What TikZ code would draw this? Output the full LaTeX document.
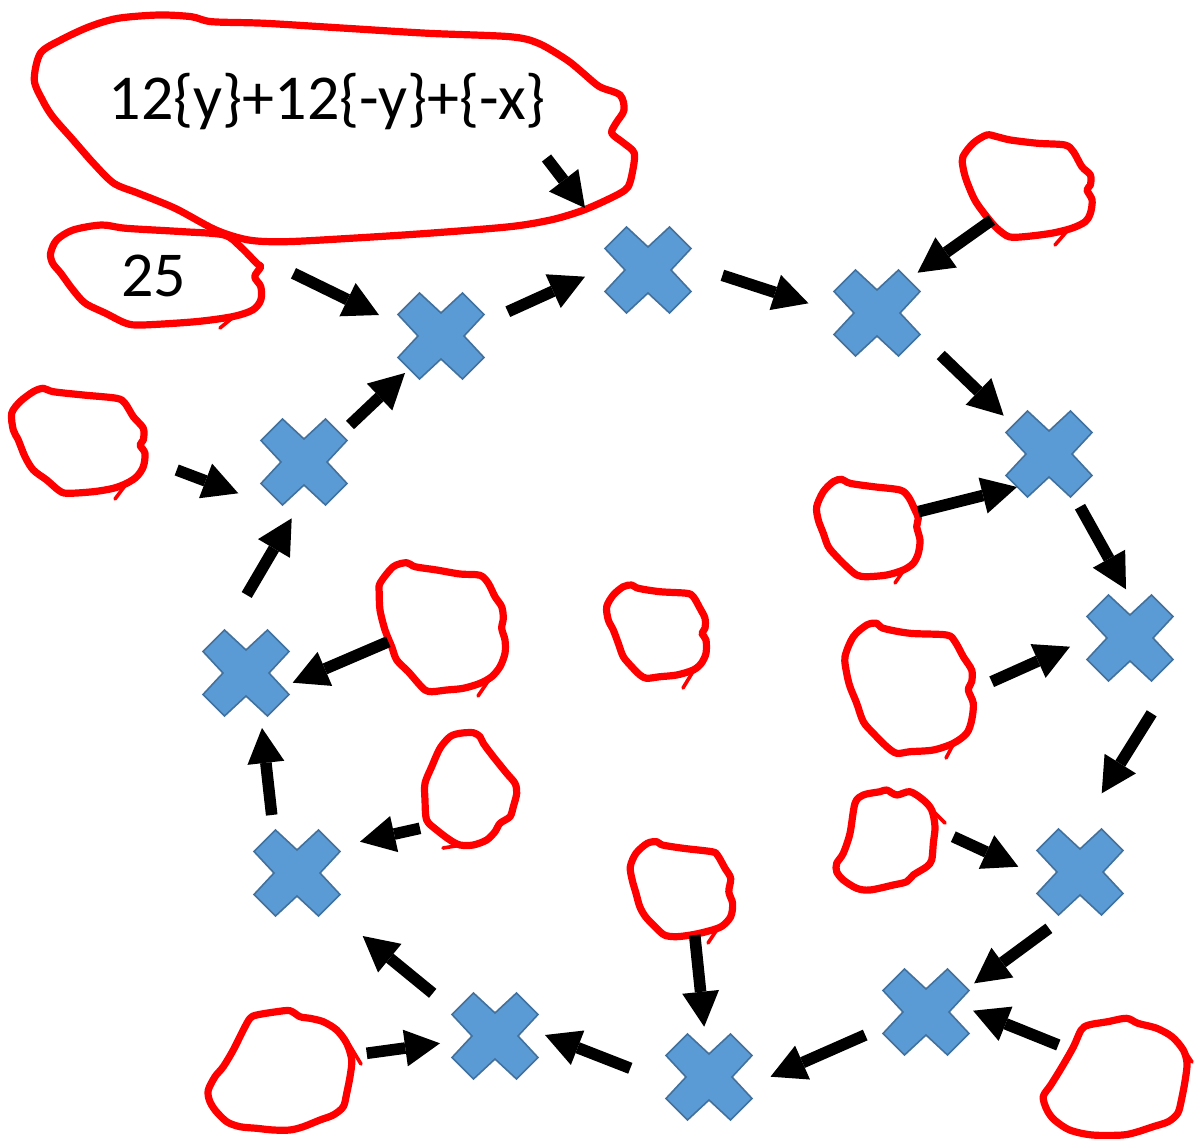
\documentclass[tikz,border=0pt]{standalone}
\usepackage{fontspec}
\setmainfont{Carlito}
\usetikzlibrary{arrows.meta}
\definecolor{xfill}{HTML}{5B9BD5}
\definecolor{xline}{HTML}{41719C}
\tikzset{
  blob/.style={draw=red, line width=3.6pt, line join=round, line cap=round},
  flick/.style={draw=red, line width=1.8pt, line cap=round},
  arr/.style={line width=5.8pt, -{Triangle[length=17.5pt,width=18.5pt,line width=0pt]}},
  xbox/.style={circle, minimum size=43pt, inner sep=0pt},
  xcross/.pic={\draw[fill=xfill, draw=xline, line width=0.8pt, line join=miter]
    (-21.5,-43) -- (0,-23) -- (21.5,-43) -- (43,-21.5) -- (23,0) -- (43,21.5) --
    (21.5,43) -- (0,23) -- (-21.5,43) -- (-43,21.5) -- (-23,0) -- (-43,-21.5) -- cycle;},
  lbl/.style={font=\fontsize{32}{38}\selectfont, anchor=base, inner sep=0pt}
}
\begin{document}
\begin{tikzpicture}[x=0.5pt, y=-0.5pt]
\path[use as bounding box] (0,0) rectangle (1194,1139);

% ---- red hand-drawn loops ----
% big loop with formula
\draw[blob] plot[smooth cycle, tension=0.5] coordinates {
 (40.4,53.3) (60.8,40) (89.4,26.7) (118,18.3) (158.8,15) (191.4,16.7) (211.8,21.7)
 (264.9,23.3) (346.5,28.3) (428.2,33.3) (509.8,36.7) (538.4,43.3) (567,60) (583.3,73.3)
 (599.6,86.7) (620,95) (624,110) (615.9,123.3) (611.8,133.3) (624,143.3) (634.3,153.3)
 (632.2,173.3) (628.2,186.7) (620,193.3) (599.6,203.3) (579.2,211.7) (550.6,220)
 (509.8,226.7) (428.2,233.3) (350.6,238.3) (285.3,241.7) (248.6,240) (215.9,230)
 (175.1,208.3) (138.4,193.3) (113.9,183.3) (93.5,163.3) (73.1,140) (52.7,116.7)
 (42.4,100) (34.3,80)};
% loop with 25
\draw[blob] plot[smooth cycle, tension=0.5] coordinates {
 (50.6,253.3) (56.7,240) (73.1,230) (101.6,225) (126.1,228.3) (183.3,231.7) (224.1,235)
 (240.4,246.7) (256.7,263.3) (260.8,266.7) (254.7,276.7) (260.8,286.7) (260.8,300)
 (252.7,310) (232.2,316.7) (195.5,321.7) (142.4,325) (126.1,323.3) (105.7,313.3)
 (85.3,303.3) (73.1,290) (60.8,273.3) (52.7,263.3)};
\draw[flick] (236,315) -- (220,328);
% top right
\draw[blob] plot[smooth cycle, tension=0.5] coordinates {
 (962.9,156.7) (973.1,143.3) (986.7,135) (996.9,136.7) (1010.5,140) (1037.7,143.3)
 (1064.9,145) (1073.4,151.7) (1081.9,166.7) (1090.4,175) (1090.4,185) (1087,190)
 (1092.1,200) (1090.4,213.3) (1085.3,221.7) (1071.7,228.3) (1051.3,233.3) (1024.1,236.7)
 (1008.8,236.7) (996.9,228.3) (986.7,216.7) (974.8,200) (966.3,180) (962.9,166.7)};
\draw[flick] (1068,230) -- (1055,245);
% left
\draw[blob] plot[smooth cycle, tension=0.5] coordinates {
 (11.7,413.3) (20,401.7) (33.3,391.7) (43.3,388.3) (53.3,391.7) (83.3,395) (116.7,398.3)
 (125,403.3) (133.3,416.7) (143.3,428.3) (143.3,440) (140,445) (145,453.3) (143.3,466.7)
 (136.7,476.7) (126.7,483.3) (113.3,488.3) (93.3,491.7) (66.7,493.3) (58.3,490)
 (46.7,480) (33.3,470) (25,456.7) (18.3,440) (13.3,430)};
\draw[flick] (127,483) -- (115,499);
% C
\draw[blob] plot[smooth cycle, tension=0.5] coordinates {
 (380,583.3) (393.3,566.7) (406.7,562.7) (415,566.7) (436.7,570) (460,574) (480,575.3)
 (488.3,583.3) (495,596.7) (501.7,606.7) (503.3,618.3) (501.7,628.3) (505,640)
 (505,653.3) (500,666.7) (491.7,676.7) (480,683.3) (463.3,688.3) (446.7,690)
 (431.7,691.7) (425,690) (418.3,683.3) (408.3,671.7) (396.7,660) (391.7,646.7)
 (385,630) (380,610) (379.3,593.3)};
\draw[flick] (491,677) -- (478,696);
% D centre
\draw[blob] plot[smooth cycle, tension=0.5] coordinates {
 (606.7,606.7) (613.3,595) (623.3,586.7) (631.7,585) (638.3,588.3) (660,591.7)
 (686.7,593.3) (693.3,596.7) (700,608.3) (705,618.3) (705,628.3) (702,633.3)
 (706,640) (706,653.3) (701.3,663.3) (693.3,670) (676.7,675) (660,676.7) (646.7,678.3)
 (640,675) (631.7,666.7) (623.3,656.7) (618.3,643.3) (613.3,630) (608.3,620)};
\draw[flick] (694,670) -- (683,688);
% E
\draw[blob] plot[smooth cycle, tension=0.5] coordinates {
 (425,783.3) (431.7,766.7) (440,748.3) (450,736.7) (460,733.3) (473.3,732.7) (480,736.7)
 (483.3,743.3) (493.3,756.7) (506.7,773.3) (515,783.3) (516.7,793.3) (513.3,806.7)
 (510,816.7) (500,823.3) (495,831.7) (486.7,840) (473.3,845) (460,845) (450,840)
 (436.7,830) (426.7,820) (425,800)};
\draw[flick] (462,845) -- (443,848);
% F
\draw[blob] plot[smooth cycle, tension=0.5] coordinates {
 (816.7,506.7) (823.3,491.7) (833.3,481.7) (841.7,479.3) (850,483.3) (873.3,486.7)
 (900,490) (908.3,496.7) (915,510) (918.3,518.3) (916.7,526.7) (920,540) (918.3,553.3)
 (913.3,563.3) (903.3,570) (886.7,575) (866.7,576.7) (856.7,575) (846.7,566.7)
 (836.7,556.7) (828.3,546.7) (823.3,533.3) (818.3,520)};
\draw[flick] (904,570) -- (895,583);
% G
\draw[blob] plot[smooth cycle, tension=0.5] coordinates {
 (845,656.7) (853.3,636.7) (866.7,625) (876.7,623.3) (883.3,628.3) (910,633.3)
 (946.7,635) (955,641.7) (963.3,656.7) (971.7,670) (971.7,681.7) (968.3,690)
 (973.3,703.3) (971.7,720) (966.7,733.3) (953.3,743.3) (933.3,750) (910,751.7)
 (896.7,753.3) (886.7,746.7) (873.3,733.3) (863.3,721.7) (856.7,703.3) (850,686.7)
 (846.7,673.3)};
\draw[flick] (954,743) -- (946,758);
% H
\draw[blob] plot[smooth cycle, tension=0.5] coordinates {
 (836.7,863.3) (843.3,853.3) (850,833.3) (855,803.3) (863.3,795) (880,791.7)
 (886.7,790) (896.7,795) (910,791.7) (923.3,800) (931.7,810) (935,826.7) (933.3,843.3)
 (931.7,860) (926.7,866.7) (913.3,875) (906.7,881.7) (893.3,885) (870,890)
 (856.7,888.3) (843.3,880) (836.7,871.7)};
\draw[flick] (932,810) -- (945,823);
% I
\draw[blob] plot[smooth cycle, tension=0.5] coordinates {
 (630.3,866.7) (636,853.3) (647.3,843.3) (656.8,841.7) (662.5,845) (683.3,848.3)
 (711.7,851.7) (717.4,855) (725,868.3) (730.7,878.3) (728.8,891.7) (732.6,903.3)
 (730.7,916.7) (721.2,926.7) (706.1,931.7) (690.9,935) (675.8,936.7) (664.4,935)
 (654.9,926.7) (645.5,916.7) (639.8,906.7) (636,893.3) (632.2,880)};
\draw[flick] (718,928) -- (708,943);
% J
\draw[blob] plot[smooth cycle, tension=0.5] coordinates {
 (1043.2,1096.7) (1050.8,1085) (1062.1,1066.7) (1073.5,1046.7) (1081.1,1030)
 (1088.6,1025) (1107.6,1021.7) (1126.5,1018.3) (1137.9,1023.3) (1156.8,1028.3)
 (1172,1036.7) (1183.3,1050) (1187,1063.3) (1185.2,1080) (1181.4,1100) (1177.7,1113.3)
 (1168.2,1121.7) (1153,1126.7) (1137.9,1131.7) (1122.7,1135) (1092.4,1135)
 (1069.7,1130) (1054.5,1120) (1047,1110)};
\draw[flick] (1184,1050) -- (1192,1062);
% K
\draw[blob] plot[smooth cycle, tension=0.5] coordinates {
 (208.3,1090) (215,1076.7) (223.3,1066.7) (233.3,1050) (243.3,1030) (250,1018.3)
 (256.7,1015) (276.7,1011.7) (290,1010.7) (300,1016.7) (310,1018.3) (323.3,1021.7)
 (336.7,1030) (346.7,1043.3) (351.7,1060) (350,1076.7) (346.7,1093.3) (343.3,1106.7)
 (333.3,1115) (320,1120) (303.3,1126.7) (290,1130) (273.3,1130) (256.7,1128.3)
 (240,1126.7) (226.7,1121.7) (215,1110) (209.3,1100)};
\draw[flick] (349,1044) -- (361,1064);

% ---- texts ----
\node[lbl] (formula) at (327.5,120) {12\{y\}+12\{-y\}+\{-x\}};
\node[lbl] (n25) at (153.5,296.7) {25};

% ---- crosses ----
\foreach \n/\p in {X1/{(441,336)}, X2/{(648,270)}, X3/{(877,313)}, X4/{(1049,454)},
  X5/{(1130,638)}, X6/{(1080,872)}, X7/{(926,1012)}, X8/{(709,1077)},
  X9/{(495,1036)}, X10/{(297,873)}, X11/{(246,673)}, X12/{(304,462)}}{
  \node[xbox] (\n) at \p {};
  \pic at (\n) {xcross};
}

% ---- arrow end points ----
\coordinate (a01s) at (293.5,273.3);  \coordinate (a01e) at (379,315);
\coordinate (a02s) at (507.8,311.7);  \coordinate (a02e) at (585,276.7);
\coordinate (a03s) at (722.4,275.3);  \coordinate (a03e) at (808.5,303.3);
\coordinate (a04s) at (940.7,355);    \coordinate (a04e) at (1003.7,415.7);
\coordinate (a05s) at (1080,506.7);   \coordinate (a05e) at (1126,589.3);
\coordinate (a06s) at (1151.7,713.3); \coordinate (a06e) at (1101.7,793.3);
\coordinate (a07s) at (1048.9,928.3); \coordinate (a07e) at (974.2,983.3);
\coordinate (a08s) at (865.2,1035);   \coordinate (a08e) at (770.5,1076.7);
\coordinate (a09s) at (630.3,1068.3); \coordinate (a09e) at (545,1035);
\coordinate (a10s) at (432.7,993.3);  \coordinate (a10e) at (362.7,936);
\coordinate (a11s) at (271.7,815);    \coordinate (a11e) at (262,728);
\coordinate (a12s) at (246.7,595);    \coordinate (a12e) at (291.7,518.3);
\coordinate (a13s) at (350,425);      \coordinate (a13e) at (405,373);
\coordinate (a14s) at (546.5,158);    \coordinate (a14e) at (585,208);
\coordinate (b01s) at (991.8,220);    \coordinate (b01e) at (917.6,272.7);
\coordinate (b02s) at (176.7,470);    \coordinate (b02e) at (238.3,493.3);
\coordinate (b03s) at (918.3,511.7);  \coordinate (b03e) at (1017,487);
\coordinate (b04s) at (991.7,681.7);  \coordinate (b04e) at (1070,646.7);
\coordinate (b05s) at (388.3,641.7);  \coordinate (b05e) at (292.7,682.7);
\coordinate (b06s) at (420,828.3);    \coordinate (b06e) at (360,841.7);
\coordinate (b07s) at (953.3,836.7);  \coordinate (b07e) at (1018.3,866.7);
\coordinate (b08s) at (694.7,935);    \coordinate (b08e) at (704.2,1026.7);
\coordinate (b09s) at (366.7,1053.3); \coordinate (b09e) at (440,1043.3);
\coordinate (b10s) at (1058.3,1045);  \coordinate (b10e) at (973.1,1010.7);

\foreach \a in {a01,a02,a03,a04,a05,a06,a07,a08,a09,a10,a11,a12,a13,a14,
                b01,b02,b03,b04,b05,b06,b07,b08,b09,b10}{
  \draw[arr] (\a s) -- (\a e);
}
\end{tikzpicture}
\end{document}
